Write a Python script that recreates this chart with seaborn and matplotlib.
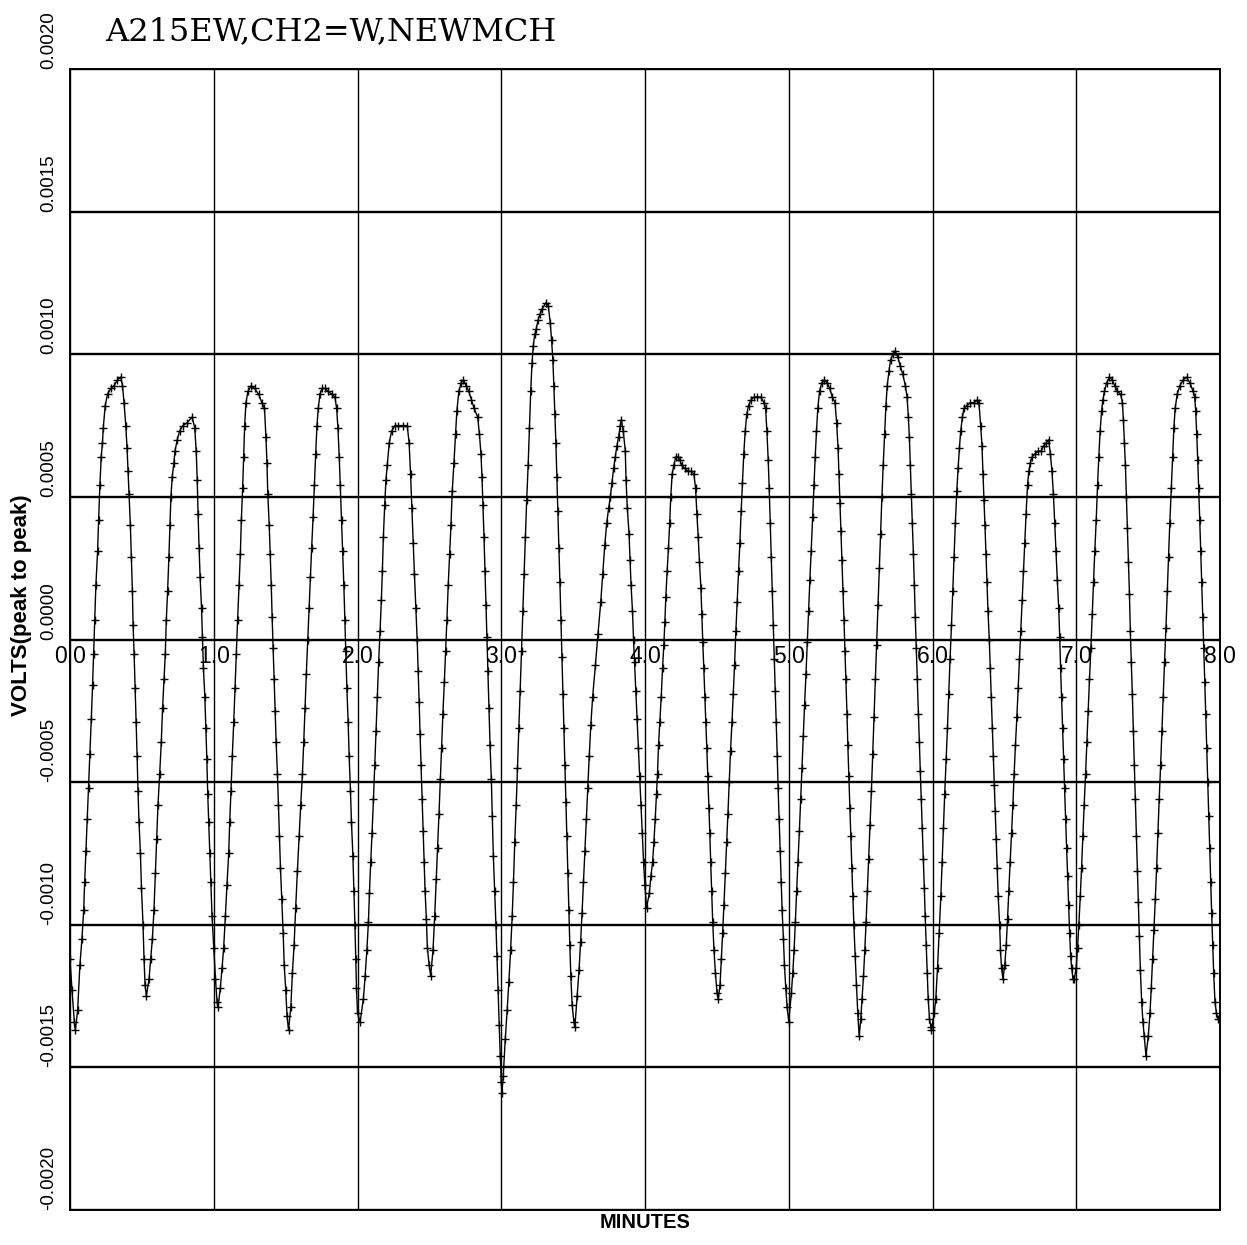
import numpy as np
import pandas as pd
import matplotlib
matplotlib.use("Agg")
import matplotlib.pyplot as plt
import seaborn as sns

# samples: time in minutes, amplitude in units of 1e-4 volts
minutes = [
    # cycle 1
    0.000, 0.014, 0.030, 0.037, 0.053, 0.069, 0.083, 0.095, 0.102, 0.111,
    0.120, 0.129, 0.139, 0.148, 0.157, 0.164, 0.171, 0.180, 0.192, 0.199,
    0.208, 0.217, 0.226, 0.231, 0.245, 0.261, 0.284, 0.307, 0.330, 0.353,
    0.365, 0.376, 0.388, 0.397, 0.404, 0.411, 0.420, 0.427, 0.434, 0.439,
    0.446, 0.453, 0.460, 0.467, 0.473, 0.480, 0.490, 0.497, 0.508, 0.515,
    0.522, 0.531,
    # cycle 2
    0.550, 0.561, 0.573, 0.584, 0.594, 0.603, 0.612, 0.624, 0.635, 0.644,
    0.654, 0.663, 0.670, 0.679, 0.688, 0.695, 0.702, 0.711, 0.723, 0.730,
    0.746, 0.762, 0.785, 0.815, 0.850, 0.868, 0.878, 0.885, 0.891, 0.898,
    0.905, 0.915, 0.921, 0.928, 0.938, 0.945, 0.952, 0.958, 0.965, 0.972,
    0.979, 0.988, 1.000, 1.012, 1.023, 1.030,
    # cycle 3
    1.046, 1.058, 1.069, 1.081, 1.092, 1.104, 1.111, 1.120, 1.129, 1.139,
    1.148, 1.157, 1.166, 1.176, 1.185, 1.192, 1.201, 1.208, 1.215, 1.224,
    1.238, 1.261, 1.284, 1.312, 1.335, 1.353, 1.363, 1.370, 1.376, 1.386,
    1.393, 1.400, 1.406, 1.413, 1.420, 1.427, 1.434, 1.443, 1.450, 1.457,
    1.464, 1.473, 1.483, 1.490, 1.501, 1.510, 1.520,
    # cycle 4
    1.536, 1.547, 1.559, 1.570, 1.582, 1.594, 1.605, 1.617, 1.626, 1.635,
    1.644, 1.654, 1.663, 1.672, 1.681, 1.691, 1.700, 1.709, 1.718, 1.727,
    1.739, 1.755, 1.774, 1.797, 1.820, 1.843, 1.855, 1.864, 1.873, 1.880,
    1.889, 1.896, 1.905, 1.912, 1.919, 1.926, 1.935, 1.942, 1.951, 1.958,
    1.968, 1.975, 1.982, 1.988, 1.993, 2.000,
    # cycle 5
    2.018, 2.041, 2.053, 2.065, 2.076, 2.083, 2.092, 2.101, 2.111, 2.120,
    2.129, 2.138, 2.147, 2.157, 2.166, 2.173, 2.180, 2.189, 2.198, 2.207,
    2.221, 2.237, 2.260, 2.283, 2.318, 2.346, 2.359, 2.369, 2.378, 2.387,
    2.396, 2.406, 2.415, 2.422, 2.429, 2.435, 2.442, 2.449, 2.456, 2.463,
    2.470, 2.479, 2.486, 2.498, 2.509,
    # cycle 6
    2.525, 2.537, 2.548, 2.558, 2.567, 2.576, 2.585, 2.594, 2.604, 2.613,
    2.622, 2.631, 2.641, 2.650, 2.659, 2.671, 2.682, 2.691, 2.705, 2.721,
    2.737, 2.756, 2.774, 2.793, 2.811, 2.836, 2.848, 2.859, 2.866, 2.873,
    2.880, 2.887, 2.894, 2.901, 2.908, 2.915, 2.922, 2.931, 2.938, 2.945,
    2.954, 2.963, 2.970, 2.977, 2.986, 2.993, 3.000, 3.005,
    # cycle 7
    3.014, 3.028, 3.041, 3.053, 3.065, 3.076, 3.085, 3.094, 3.104, 3.113,
    3.122, 3.131, 3.141, 3.150, 3.159, 3.168, 3.177, 3.187, 3.196, 3.205,
    3.214, 3.223, 3.233, 3.244, 3.256, 3.270, 3.286, 3.309, 3.327, 3.341,
    3.350, 3.359, 3.366, 3.373, 3.380, 3.387, 3.394, 3.401, 3.408, 3.415,
    3.422, 3.429, 3.435, 3.442, 3.449, 3.456, 3.463, 3.470, 3.477, 3.484,
    3.493, 3.505, 3.512,
    # cycle 8
    3.528, 3.541, 3.552, 3.562, 3.572, 3.582, 3.592, 3.602, 3.612, 3.623,
    3.636, 3.655, 3.673, 3.692, 3.706, 3.720, 3.734, 3.747, 3.759, 3.770,
    3.782, 3.793, 3.805, 3.816, 3.828, 3.835, 3.849, 3.863, 3.868, 3.877,
    3.889, 3.896, 3.903, 3.913, 3.920, 3.927, 3.936, 3.945, 3.954, 3.963,
    3.972, 3.981, 3.990, 3.999, 4.011,
    # cycle 9
    4.030, 4.041, 4.053, 4.062, 4.071, 4.080, 4.087, 4.094, 4.103, 4.113,
    4.122, 4.131, 4.138, 4.145, 4.154, 4.163, 4.172, 4.179, 4.189, 4.200,
    4.214, 4.230, 4.241, 4.257, 4.276, 4.299, 4.322, 4.340, 4.352, 4.361,
    4.370, 4.379, 4.389, 4.395, 4.402, 4.409, 4.416, 4.423, 4.430, 4.437,
    4.444, 4.451, 4.457, 4.464, 4.471, 4.480, 4.490, 4.501, 4.510,
    # cycle 10
    4.522, 4.531, 4.540, 4.549, 4.559, 4.568, 4.577, 4.586, 4.595, 4.605,
    4.614, 4.623, 4.632, 4.641, 4.651, 4.660, 4.669, 4.678, 4.687, 4.697,
    4.708, 4.720, 4.736, 4.759, 4.782, 4.805, 4.828, 4.839, 4.848, 4.857,
    4.864, 4.871, 4.878, 4.885, 4.892, 4.899, 4.906, 4.913, 4.920, 4.926,
    4.933, 4.940, 4.947, 4.954, 4.963, 4.970, 4.979, 4.989, 5.000,
    # cycle 11
    5.018, 5.028, 5.037, 5.046, 5.055, 5.064, 5.074, 5.083, 5.092, 5.101,
    5.110, 5.120, 5.129, 5.138, 5.147, 5.156, 5.166, 5.175, 5.184, 5.193,
    5.202, 5.214, 5.230, 5.248, 5.267, 5.285, 5.303, 5.322, 5.333, 5.343,
    5.349, 5.356, 5.363, 5.370, 5.377, 5.384, 5.391, 5.398, 5.405, 5.411,
    5.418, 5.425, 5.432, 5.439, 5.446, 5.453, 5.462, 5.471, 5.480, 5.490,
    # cycle 12
    5.501, 5.510, 5.520, 5.529, 5.538, 5.547, 5.556, 5.566, 5.575, 5.584,
    5.593, 5.602, 5.611, 5.621, 5.630, 5.639, 5.648, 5.657, 5.667, 5.676,
    5.685, 5.697, 5.708, 5.724, 5.740, 5.759, 5.775, 5.793, 5.811, 5.823,
    5.832, 5.839, 5.846, 5.853, 5.860, 5.867, 5.874, 5.880, 5.887, 5.894,
    5.901, 5.908, 5.915, 5.922, 5.929, 5.936, 5.943, 5.949, 5.956, 5.963,
    5.970, 5.979, 5.989,
    # cycle 13
    5.993, 6.012, 6.023, 6.035, 6.046, 6.058, 6.067, 6.076, 6.085, 6.095,
    6.104, 6.113, 6.122, 6.132, 6.141, 6.150, 6.159, 6.169, 6.178, 6.187,
    6.196, 6.208, 6.219, 6.238, 6.261, 6.289, 6.312, 6.323, 6.335, 6.344,
    6.351, 6.358, 6.365, 6.372, 6.379, 6.386, 6.395, 6.402, 6.409, 6.416,
    6.423, 6.430, 6.436, 6.443, 6.450, 6.457, 6.467, 6.473, 6.480, 6.490,
    # cycle 14
    6.503, 6.513, 6.522, 6.531, 6.540, 6.550, 6.559, 6.568, 6.577, 6.587,
    6.596, 6.605, 6.614, 6.624, 6.633, 6.642, 6.651, 6.661, 6.670, 6.681,
    6.693, 6.711, 6.734, 6.755, 6.774, 6.792, 6.808, 6.820, 6.831, 6.841,
    6.850, 6.859, 6.868, 6.878, 6.885, 6.891, 6.898, 6.905, 6.912, 6.919,
    6.926, 6.933, 6.940, 6.947, 6.954, 6.961, 6.968, 6.977, 6.986,
    # cycle 15
    7.000, 7.009, 7.018, 7.028, 7.037, 7.046, 7.055, 7.065, 7.074, 7.083,
    7.092, 7.102, 7.111, 7.120, 7.129, 7.139, 7.148, 7.157, 7.166, 7.176,
    7.185, 7.196, 7.212, 7.231, 7.249, 7.268, 7.286, 7.309, 7.321, 7.328,
    7.335, 7.342, 7.349, 7.356, 7.363, 7.370, 7.376, 7.383, 7.390, 7.397,
    7.404, 7.411, 7.418, 7.425, 7.432, 7.439, 7.446, 7.455, 7.464, 7.473,
    7.485,
    # cycle 16
    7.501, 7.513, 7.522, 7.531, 7.540, 7.550, 7.559, 7.568, 7.577, 7.587,
    7.596, 7.605, 7.614, 7.624, 7.633, 7.642, 7.651, 7.661, 7.670, 7.679,
    7.688, 7.702, 7.721, 7.744, 7.767, 7.790, 7.813, 7.824, 7.831, 7.838,
    7.845, 7.852, 7.859, 7.866, 7.873, 7.880, 7.887, 7.894, 7.901, 7.908,
    7.915, 7.921, 7.928, 7.935, 7.942, 7.949, 7.956, 7.965, 7.975, 7.986,
    8.000,
]

volts_e4 = [
    # cycle 1
    -11.2, -12.3, -13.4, -13.7, -13.0, -11.4, -10.5, -9.5, -8.5, -7.4,
    -6.3, -5.2, -4.0, -2.8, -1.6, -0.5, 0.7, 1.9, 3.1, 4.2,
    5.4, 6.4, 6.9, 7.4, 8.2, 8.6, 8.8, 8.9, 9.1, 9.2,
    8.9, 8.3, 7.5, 6.7, 5.9, 5.1, 4.0, 2.9, 1.7, 0.5,
    -0.5, -1.7, -2.9, -4.1, -5.3, -6.4, -7.5, -8.7, -10.0, -11.2,
    -12.1, -12.5,
    # cycle 2
    -11.9, -11.2, -10.5, -9.5, -8.2, -7.0, -5.8, -4.7, -3.6, -2.4,
    -1.4, -0.5, 0.7, 1.7, 2.9, 4.0, 5.0, 5.7, 6.2, 6.6,
    7.0, 7.3, 7.5, 7.6, 7.8, 7.4, 6.6, 5.6, 4.4, 3.2,
    2.2, 1.1, 0.1, -1.0, -2.0, -3.1, -4.2, -5.4, -6.4, -7.5,
    -8.5, -9.7, -10.8, -11.9, -12.7, -12.9,
    # cycle 3
    -12.2, -11.5, -10.8, -9.7, -8.6, -7.5, -6.4, -5.3, -4.1, -2.9,
    -1.7, -0.5, 0.7, 1.9, 3.0, 4.2, 5.3, 6.4, 7.5, 8.3,
    8.7, 8.9, 8.8, 8.6, 8.3, 8.1, 7.1, 6.2, 5.1, 4.0,
    3.0, 1.9, 0.8, -0.3, -1.4, -2.5, -3.6, -4.7, -5.8, -6.9,
    -8.0, -9.1, -10.3, -11.4, -12.3, -13.2, -13.7,
    # cycle 4
    -12.9, -11.7, -10.7, -9.4, -8.1, -6.9, -5.8, -4.7, -3.6, -2.4,
    -1.2, 0.0, 1.1, 2.2, 3.2, 4.3, 5.4, 6.5, 7.5, 8.1,
    8.6, 8.8, 8.8, 8.7, 8.6, 8.5, 8.1, 7.4, 6.4, 5.4,
    4.2, 3.1, 1.9, 0.7, -0.4, -1.7, -2.9, -4.1, -5.3, -6.4,
    -7.6, -8.8, -10.0, -11.2, -12.2, -13.1,
    # cycle 5
    -13.4, -12.6, -11.8, -10.9, -9.9, -8.9, -7.8, -6.8, -5.6, -4.4,
    -3.2, -2.0, -0.8, 0.3, 1.4, 2.4, 3.6, 4.7, 5.6, 6.1,
    6.9, 7.3, 7.5, 7.5, 7.5, 7.5, 6.9, 5.8, 4.6, 3.4,
    2.3, 1.1, 0.0, -1.1, -2.2, -3.3, -4.4, -5.6, -6.7, -7.8,
    -8.8, -9.8, -10.8, -11.4, -11.8,
    # cycle 6
    -10.9, -9.7, -8.4, -7.3, -6.1, -4.9, -3.8, -2.6, -1.5, -0.4,
    0.7, 1.9, 3.0, 4.0, 5.2, 6.2, 7.2, 8.0, 8.7, 9.0,
    9.1, 8.9, 8.7, 8.4, 8.1, 7.8, 7.2, 6.5, 5.7, 4.7,
    3.6, 2.4, 1.2, 0.1, -1.1, -2.4, -3.7, -4.9, -6.2, -7.6,
    -8.8, -10.0, -11.1, -12.3, -13.5, -14.6, -15.5, -15.9,
    # cycle 7
    -15.3, -14.0, -13.0, -12.0, -10.9, -9.7, -8.5, -7.1, -5.8, -4.5,
    -3.1, -1.8, -0.4, 1.0, 2.3, 3.6, 4.9, 6.1, 7.4, 8.7,
    9.7, 10.3, 10.7, 10.9, 11.2, 11.4, 11.6, 11.8, 11.7, 11.1,
    10.5, 9.8, 8.9, 7.9, 6.9, 5.7, 4.5, 3.2, 2.0, 0.7,
    -0.6, -1.9, -3.1, -4.4, -5.7, -6.9, -8.2, -9.5, -10.7, -11.8,
    -12.8, -13.4, -13.6,
    # cycle 8
    -12.5, -11.6, -10.6, -9.6, -8.5, -7.4, -6.3, -5.2, -4.1, -3.0,
    -2.0, -0.9, 0.2, 1.3, 2.3, 3.3, 4.1, 4.6, 5.0, 5.5,
    6.0, 6.4, 6.8, 7.1, 7.5, 7.7, 7.3, 6.6, 5.6, 4.6,
    3.7, 2.8, 1.9, 1.0, 0.0, -0.8, -1.8, -2.8, -3.8, -4.8,
    -5.8, -6.8, -7.8, -8.6, -9.4,
    # cycle 9
    -8.9, -8.3, -7.8, -7.1, -6.3, -5.4, -4.7, -3.7, -2.9, -2.0,
    -1.0, -0.2, 0.6, 1.5, 2.4, 3.2, 4.1, 5.0, 5.8, 6.1,
    6.4, 6.4, 6.3, 6.1, 6.0, 5.9, 5.9, 5.8, 5.3, 4.4,
    3.6, 2.7, 1.8, 0.9, -0.1, -1.0, -2.0, -2.9, -3.8, -4.8,
    -5.9, -6.8, -7.8, -8.8, -9.9, -10.9, -11.7, -12.4, -12.6,
    # cycle 10
    -12.1, -11.2, -10.3, -9.3, -8.2, -7.1, -6.1, -5.0, -3.9, -2.9,
    -1.9, -0.9, 0.3, 1.3, 2.4, 3.4, 4.5, 5.5, 6.5, 7.3,
    7.9, 8.2, 8.4, 8.5, 8.5, 8.5, 8.3, 8.1, 7.3, 6.3,
    5.3, 4.1, 2.9, 1.7, 0.5, -0.7, -1.8, -2.9, -4.1, -5.2,
    -6.3, -7.4, -8.5, -9.5, -10.5, -11.4, -12.2, -12.9, -13.4,
    # cycle 11
    -12.4, -11.7, -10.9, -9.9, -8.8, -7.8, -6.7, -5.6, -4.5, -3.4,
    -2.3, -1.2, -0.1, 1.0, 2.1, 3.1, 4.3, 5.4, 6.4, 7.3,
    8.1, 8.7, 9.0, 9.1, 9.0, 8.8, 8.5, 8.3, 7.6, 6.7,
    5.8, 4.8, 3.8, 2.8, 1.7, 0.7, -0.4, -1.4, -2.6, -3.7,
    -4.8, -5.9, -6.9, -8.0, -9.0, -10.0, -11.1, -12.1, -13.1, -13.9,
    # cycle 12
    -13.3, -12.6, -11.8, -10.9, -9.9, -8.8, -7.7, -6.5, -5.3, -4.0,
    -2.7, -1.4, -0.2, 1.2, 2.5, 3.7, 5.0, 6.1, 7.2, 8.2,
    8.9, 9.4, 9.8, 10.0, 10.1, 9.9, 9.6, 9.3, 8.9, 8.5,
    7.8, 7.1, 6.1, 5.1, 4.1, 3.0, 1.9, 0.8, -0.3, -1.4,
    -2.6, -3.6, -4.6, -5.6, -6.6, -7.7, -8.7, -9.7, -10.7, -11.7,
    -12.6, -13.3, -13.6,
    # cycle 13
    -13.7, -13.1, -12.6, -11.5, -10.3, -9.0, -7.8, -6.6, -5.4, -4.2,
    -3.1, -1.9, -0.7, 0.5, 1.7, 2.9, 4.1, 5.2, 6.0, 6.7,
    7.3, 7.8, 8.1, 8.2, 8.3, 8.3, 8.4, 8.3, 7.5, 6.8,
    5.8, 4.9, 4.0, 3.0, 2.0, 1.0, 0.0, -1.0, -2.0, -3.1,
    -4.1, -5.1, -6.0, -7.0, -8.0, -9.0, -10.0, -10.9, -11.5, -11.9,
    # cycle 14
    -11.4, -10.7, -9.8, -8.8, -7.8, -6.8, -5.8, -4.7, -3.7, -2.7,
    -1.7, -0.7, 0.3, 1.4, 2.4, 3.4, 4.4, 5.4, 5.9, 6.2,
    6.4, 6.5, 6.6, 6.6, 6.8, 6.9, 7.0, 6.5, 5.9, 5.1,
    4.1, 3.1, 2.1, 1.1, 0.1, -1.0, -2.0, -3.1, -4.2, -5.2,
    -6.3, -7.3, -8.3, -9.3, -10.3, -11.1, -11.5, -11.9, -11.9,
    # cycle 15
    -11.5, -10.8, -10.0, -9.0, -8.0, -6.9, -5.8, -4.7, -3.6, -2.5,
    -1.4, -0.3, 0.9, 2.0, 3.1, 4.2, 5.4, 6.4, 7.3, 8.0,
    8.4, 8.7, 9.0, 9.2, 9.1, 8.9, 8.7, 8.6, 8.3, 7.7,
    6.9, 6.1, 5.0, 3.9, 2.7, 1.6, 0.3, -0.8, -1.9, -3.2,
    -4.4, -5.6, -6.9, -8.1, -9.2, -10.4, -11.6, -12.7, -13.4, -13.9,
    -14.6,
    # cycle 16
    -13.9, -13.1, -12.2, -11.2, -10.2, -9.1, -8.0, -6.8, -5.6, -4.4,
    -3.2, -2.0, -0.8, 0.4, 1.7, 2.9, 4.1, 5.3, 6.4, 7.4,
    8.1, 8.6, 8.9, 9.1, 9.2, 9.0, 8.7, 8.5, 8.0, 7.2,
    6.3, 5.3, 4.2, 3.1, 2.0, 0.8, -0.3, -1.5, -2.6, -3.8,
    -5.0, -6.2, -7.3, -8.5, -9.6, -10.7, -11.7, -12.7, -13.1, -13.3,
    -13.3,
]

x_ticks = [0, 1, 2, 3, 4, 5, 6, 7, 8]
x_tick_labels = ["0.0", "1.0", "2.0", "3.0", "4.0", "5.0", "6.0", "7.0", "8.0"]
y_ticks = [-0.002, -0.0015, -0.001, -0.0005, 0.0, 0.0005, 0.001, 0.0015, 0.002]
y_tick_labels = ["-0.0020", "-0.0015", "-0.0010", "-0.0005", "0.0000",
                 "0.0005", "0.0010", "0.0015", "0.0020"]
title = "A215EW,CH2=W,NEWMCH"

assert len(minutes) == len(volts_e4)
df = pd.DataFrame({"MINUTES": minutes, "VOLTS": np.array(volts_e4) * 1e-4})

sns.set_theme(style="white")
plt.rcParams["font.family"] = ["Liberation Sans", "DejaVu Sans"]
plt.rcParams["text.color"] = "black"
plt.rcParams["axes.labelcolor"] = "black"
plt.rcParams["xtick.color"] = "black"
plt.rcParams["ytick.color"] = "black"

fig = plt.figure(figsize=(12.47, 12.45), dpi=100)
ax = fig.add_axes([70 / 1247, 35 / 1245, 1150 / 1247, 1141 / 1245])

sns.lineplot(data=df, x="MINUTES", y="VOLTS", color="black", linewidth=1.0,
             marker="+", markersize=6, markeredgewidth=1.0,
             markeredgecolor="black", estimator=None, sort=False, ax=ax)

ax.set_xlim(0, 8)
ax.set_ylim(-0.002, 0.002)
ax.set_xticks(x_ticks)
ax.set_yticks(y_ticks, labels=y_tick_labels)
ax.set_axisbelow(True)
ax.xaxis.grid(True, color="black", linewidth=1.0)
ax.yaxis.grid(True, color="black", linewidth=1.7)
for s in ax.spines.values():
    s.set_color("black")
    s.set_linewidth(1.4)

ax.tick_params(axis="x", length=0, labelbottom=False)
ax.tick_params(axis="y", length=0, pad=9, labelsize=13.5, labelrotation=90)
for lbl in ax.get_yticklabels():
    lbl.set_va("bottom")

# minute labels sit along the zero line
secax = ax.secondary_xaxis(0, transform=ax.transData)
secax.set_alignment("bottom")
secax.set_xticks(x_ticks, labels=x_tick_labels)
secax.tick_params(length=0, pad=4, labelsize=16.5)
for s in secax.spines.values():
    s.set_visible(False)

ax.set_ylabel("VOLTS(peak to peak)", fontsize=16, fontweight="bold")
ax.yaxis.set_label_coords(-0.033, 0.53)
ax.set_xlabel("MINUTES", fontsize=14.5, fontweight="bold")
ax.xaxis.set_label_coords(0.5, -0.003)

fig.text(105 / 1247, 1 - 40 / 1245, title, family="DejaVu Serif",
         fontsize=23, ha="left", va="baseline")

fig.savefig("out.png", dpi=100)
